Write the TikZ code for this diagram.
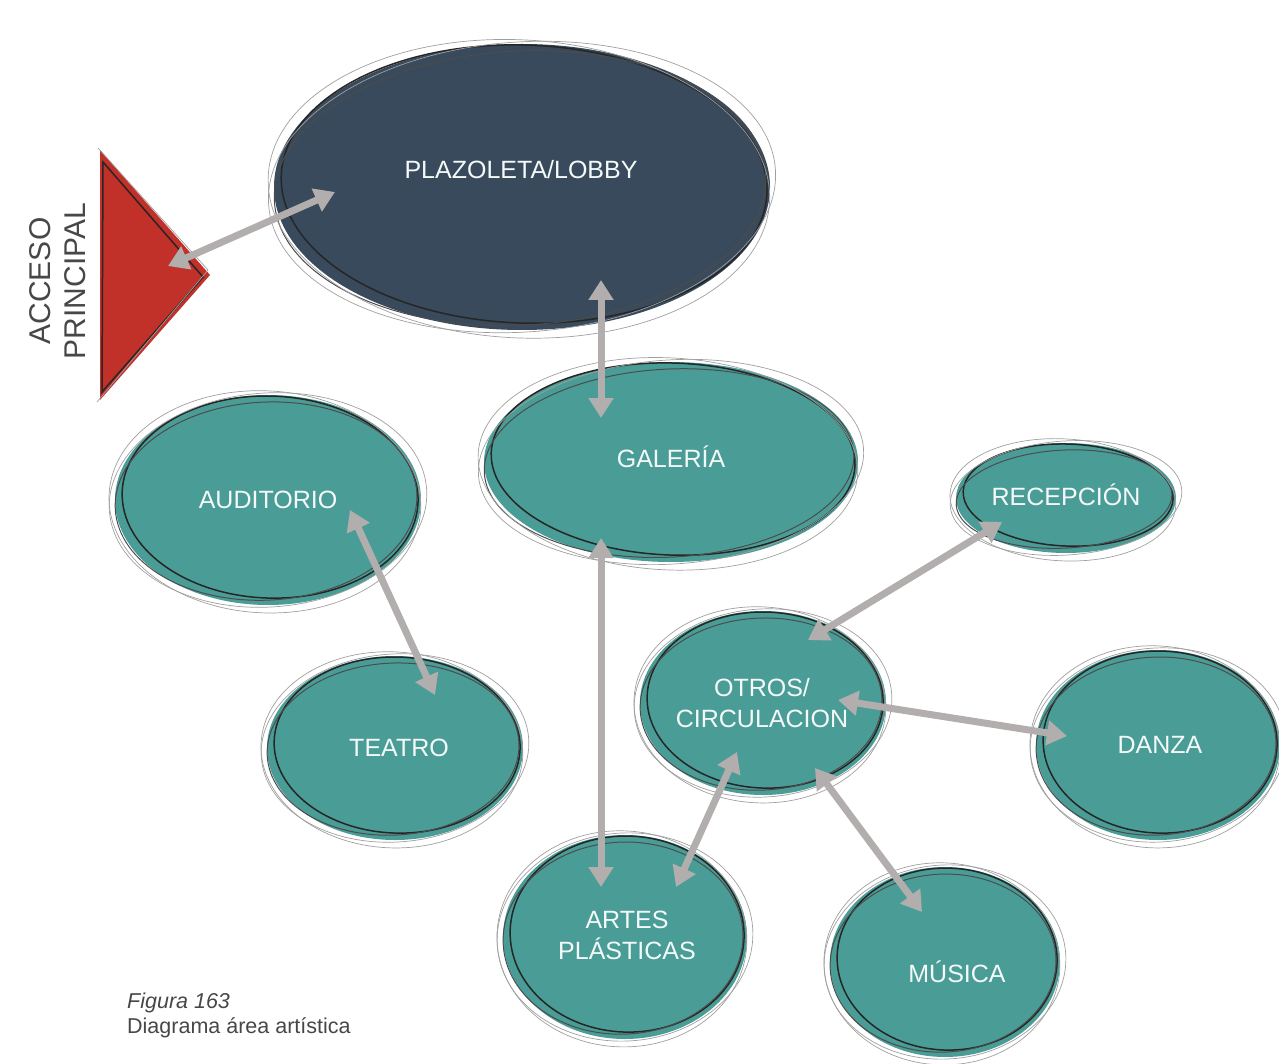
\documentclass[tikz,border=0pt]{standalone}
\usepackage{fontspec}
\setmainfont{Liberation Sans}
\usetikzlibrary{positioning, arrows.meta}
\definecolor{slateDark}{HTML}{384A5B}
\definecolor{tealZone}{HTML}{4A9D96}
\definecolor{accessRed}{HTML}{C2302A}
\definecolor{arrowGray}{HTML}{B2AEAE}
\definecolor{textGray}{HTML}{474747}

\begin{document}
\begin{tikzpicture}[
    x=1pt, y=-1pt,
    lbl/.style={text=white!94!tealZone, font=\fontsize{25}{31}\selectfont, align=center, inner sep=0pt},
    ink/.style={black!85, line width=1.5pt},
    pencil/.style={gray!75, line width=0.7pt},
    arr/.style={{Triangle[length=20pt,width=24pt]}-{Triangle[length=20pt,width=24pt]}, arrowGray, line width=7pt},
  ]
    \useasboundingbox (0,0) rectangle (1279,1064);

    % zones
    \foreach \cx/\cy/\rx/\ry/\col in {522/187/248/143/slateDark, 671/462/187/100/tealZone,
        268/500/153/105/tealZone, 395/748/128/92/tealZone, 1066/498/110/55/tealZone,
        763/703/123/92/tealZone, 1158/745/122/95/tealZone, 625/937/122/102/tealZone,
        945/962/115/95/tealZone} {
      \fill[\col] (\cx,\cy) ellipse [x radius=\rx, y radius=\ry];
      \draw[ink, rotate around={-2:(\cx,\cy)}] (\cx+2,\cy-3) ellipse [x radius=\rx-5, y radius=\ry-4];
      \draw[black!70, line width=1pt, rotate around={3:(\cx,\cy)}] (\cx-2,\cy+1) ellipse [x radius=\rx-2, y radius=\ry-6];
      \draw[pencil, rotate around={4:(\cx,\cy)}] (\cx,\cy) ellipse [x radius=\rx+6, y radius=\ry+2];
      \draw[pencil, rotate around={-3:(\cx,\cy)}] (\cx-3,\cy+2) ellipse [x radius=\rx+3, y radius=\ry+6];
    }

    % acceso
    \fill[accessRed] (100,150) -- (210,275) -- (100,400) -- cycle;
    \draw[ink] (103,162) -- (203,277) -- (102,392) -- cycle;
    \draw[pencil] (98,148) -- (208,270) -- (97,402);
    \node[rotate=90, text=textGray, font=\fontsize{30}{35}\selectfont, align=center, inner sep=0pt]
      (acclbl) at (58,281) {ACCESO\\PRINCIPAL};

    % labels
    \node[lbl] (lobby) at (521,170) {PLAZOLETA/LOBBY};
    \node[lbl] (gal) at (671,457) {GALERÍA};
    \node[lbl] (aud) at (268,500) {AUDITORIO};
    \node[lbl] (tea) at (399,748) {TEATRO};
    \node[lbl] (rec) at (1066,495) {RECEPCIÓN};
    \node[lbl] (otr) at (762,703) {OTROS/\\CIRCULACION};
    \node[lbl] (dan) at (1160,745) {DANZA};
    \node[lbl] (art) at (627,935) {ARTES\\PLÁSTICAS};
    \node[lbl] (mus) at (957,972) {MÚSICA};

    % arrow ends
    \coordinate (accIn) at (168,266);
    \coordinate (lobbyIn) at (335,192);
    \coordinate (lobbyDown) at (601,280);
    \coordinate (galUp) at (601,418);
    \coordinate (galDown) at (601,538);
    \coordinate (artUp) at (601,887);
    \coordinate (audIn) at (350,510);
    \coordinate (teaIn) at (435,695);
    \coordinate (otrRec) at (808,640);
    \coordinate (recIn) at (1002,522);
    \coordinate (otrDan) at (838,700);
    \coordinate (danIn) at (1067,736);
    \coordinate (otrArt) at (737,752);
    \coordinate (artIn) at (676,887);
    \coordinate (otrMus) at (815,768);
    \coordinate (musIn) at (922,912);

    \foreach \a/\b in {accIn/lobbyIn, lobbyDown/galUp, galDown/artUp, audIn/teaIn,
        otrRec/recIn, otrDan/danIn, otrArt/artIn, otrMus/musIn}
      \draw[arr] (\a) -- (\b);

    % caption
    \node[anchor=west, text=textGray, font=\fontsize{21.5}{25}\selectfont, align=left, inner sep=0pt]
      (cap) at (127,1015) {\textit{Figura 163}\\Diagrama área artística};
  \end{tikzpicture}
\end{document}
